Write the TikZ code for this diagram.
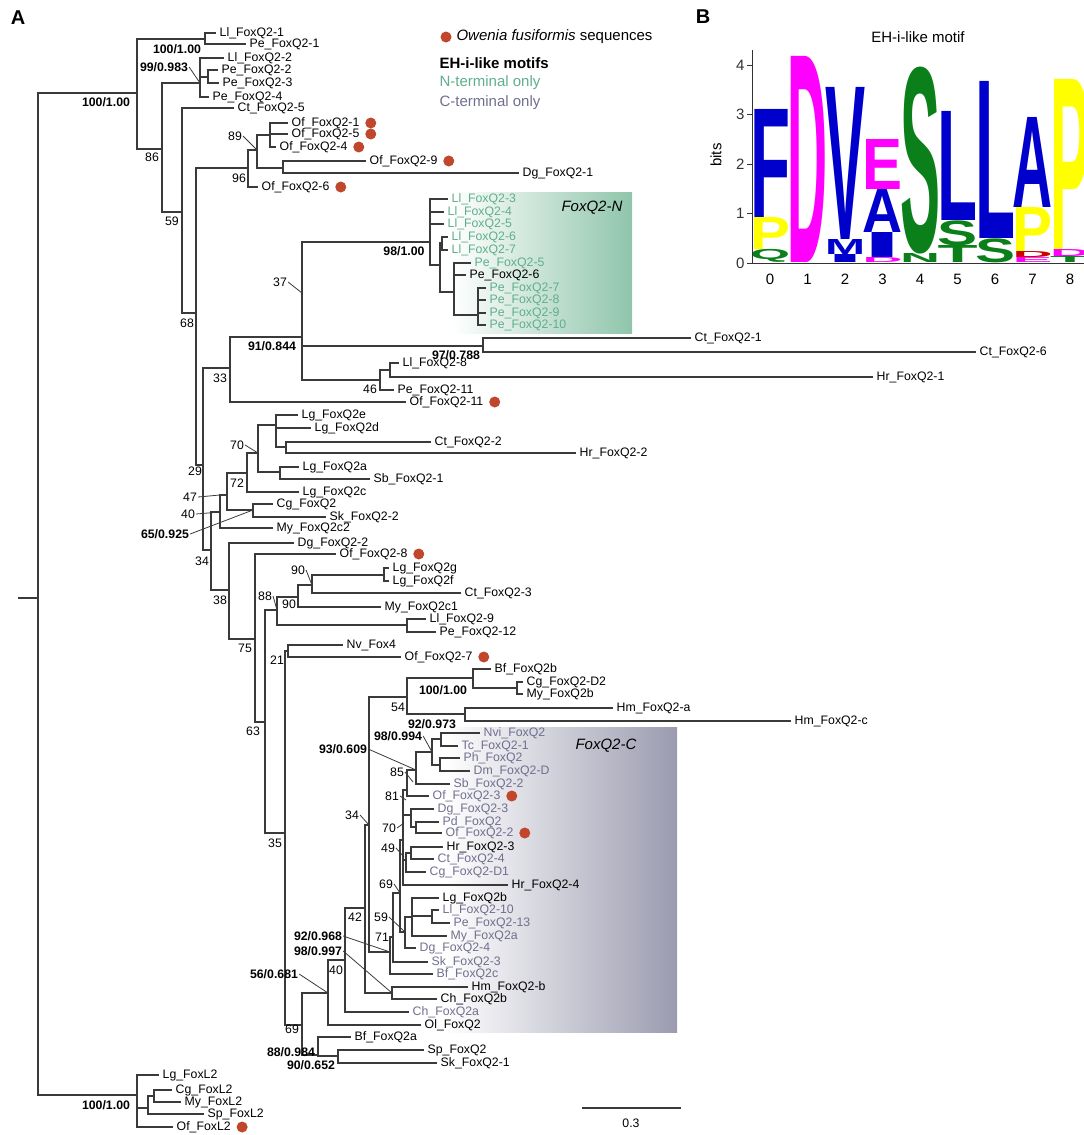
\documentclass[tikz,border=0pt]{standalone}
\usepackage{fontspec}
\setmainfont{Liberation Sans}
\usepackage{graphicx}
\usetikzlibrary{positioning}
\definecolor{ofRed}{HTML}{C0462C}
\definecolor{nTerm}{HTML}{5FAE8C}
\definecolor{cTerm}{HTML}{6F6F8F}
\definecolor{boxN}{HTML}{8FC5AB}
\definecolor{boxC}{HTML}{9B9BB0}
\definecolor{brGray}{HTML}{3A3A3A}
\definecolor{lgBlue}{HTML}{0000CC}
\definecolor{lgMag}{HTML}{FF00FF}
\definecolor{lgGreen}{HTML}{0A7F1A}
\definecolor{lgYellow}{HTML}{FFFF00}
\definecolor{lgRed}{HTML}{CC0000}
\newcommand{\leaffont}{\fontsize{12.3}{14}\selectfont}
\newcommand{\legfont}{\fontsize{15}{17}\selectfont}

\begin{document}
\begin{tikzpicture}[x=1pt, y=-1pt,
      br/.style={draw=brGray, line width=1.1pt},
      ldr/.style={draw=brGray, line width=0.8pt},
      leaf/.style={anchor=west, inner xsep=3.5pt, inner ysep=0.5pt, font=\leaffont},
      nleaf/.style={leaf, text=nTerm},
      cleaf/.style={leaf, text=cTerm},
      bsup/.style={font=\leaffont\bfseries, inner sep=1pt},
      nsup/.style={font=\leaffont, inner sep=1pt},
      ofdot/.style={circle, fill=ofRed, minimum size=11pt, inner sep=0pt},
      ltr/.style={anchor=south west, inner sep=0pt, font=\bfseries}]
    \useasboundingbox (0,0) rectangle (1084,1135);
    % clade boxes
    \shade[left color=white, right color=boxN] (452,192) rectangle (632,333);
    \shade[left color=white, right color=boxC] (445,727) rectangle (677,1032);
    \node[font=\legfont\itshape, anchor=west] (capN) at (558,208) {FoxQ2-N};
    \node[font=\legfont\itshape, anchor=west] (capC) at (572,746) {FoxQ2-C};

    % panel letters and legend
    \node[font=\fontsize{20}{22}\selectfont\bfseries] (pA) at (18,18) {A};
    \node[font=\fontsize{20}{22}\selectfont\bfseries] (pB) at (703,17) {B};
    \node[ofdot] (legdot) at (446,37) {};
    \node[anchor=west, font=\legfont] (legof) at (453,37) {\textit{Owenia fusiformis} sequences};
    \node[anchor=west, font=\legfont\bfseries] (legeh) at (436,63) {EH-i-like motifs};
    \node[anchor=west, font=\legfont, text=nTerm] (legn) at (436,83) {N-terminal only};
    \node[anchor=west, font=\legfont, text=cTerm] (legc) at (436,103) {C-terminal only};

    % leaves
    \node[leaf] (ll1) at (216,33) {Ll\_FoxQ2-1};
    \node[leaf] (pe1) at (246,44) {Pe\_FoxQ2-1};
    \node[leaf] (ll2) at (224,58) {Ll\_FoxQ2-2};
    \node[leaf] (pe2) at (218,70) {Pe\_FoxQ2-2};
    \node[leaf] (pe3) at (219,83) {Pe\_FoxQ2-3};
    \node[leaf] (pe4) at (209,97) {Pe\_FoxQ2-4};
    \node[leaf] (ct5) at (234,108) {Ct\_FoxQ2-5};
    \node[leaf] (of1) at (288,123) {Of\_FoxQ2-1};
    \node[leaf] (of5) at (288,134) {Of\_FoxQ2-5};
    \node[leaf] (of4) at (276,147) {Of\_FoxQ2-4};
    \node[leaf] (of9) at (366,161) {Of\_FoxQ2-9};
    \node[leaf] (dg1) at (519,173) {Dg\_FoxQ2-1};
    \node[leaf] (of6) at (258,187) {Of\_FoxQ2-6};
    \node[nleaf] (ll3) at (448,199) {Ll\_FoxQ2-3};
    \node[nleaf] (ll4) at (444,212) {Ll\_FoxQ2-4};
    \node[nleaf] (ll5) at (444,224) {Ll\_FoxQ2-5};
    \node[nleaf] (ll6) at (448,237) {Ll\_FoxQ2-6};
    \node[nleaf] (ll7) at (448,250) {Ll\_FoxQ2-7};
    \node[nleaf] (pe5) at (471,263) {Pe\_FoxQ2-5};
    \node[leaf] (pe6) at (466,275) {Pe\_FoxQ2-6};
    \node[nleaf] (pe7) at (486,288) {Pe\_FoxQ2-7};
    \node[nleaf] (pe8) at (486,300) {Pe\_FoxQ2-8};
    \node[nleaf] (pe9) at (486,313) {Pe\_FoxQ2-9};
    \node[nleaf] (pe10) at (486,325) {Pe\_FoxQ2-10};
    \node[leaf] (ct1) at (691,338) {Ct\_FoxQ2-1};
    \node[leaf] (ct6) at (976,352) {Ct\_FoxQ2-6};
    \node[leaf] (ll8) at (399,363) {Ll\_FoxQ2-8};
    \node[leaf] (hr1) at (873,377) {Hr\_FoxQ2-1};
    \node[leaf] (pe11) at (394,390) {Pe\_FoxQ2-11};
    \node[leaf] (of11) at (406,402) {Of\_FoxQ2-11};
    \node[leaf] (lge) at (298,415) {Lg\_FoxQ2e};
    \node[leaf] (lgd) at (311,428) {Lg\_FoxQ2d};
    \node[leaf] (ct2) at (431,442) {Ct\_FoxQ2-2};
    \node[leaf] (hr2) at (576,453) {Hr\_FoxQ2-2};
    \node[leaf] (lga) at (299,467) {Lg\_FoxQ2a};
    \node[leaf] (sb1) at (370,479) {Sb\_FoxQ2-1};
    \node[leaf] (lgc) at (299,492) {Lg\_FoxQ2c};
    \node[leaf] (cg) at (273,504) {Cg\_FoxQ2};
    \node[leaf] (sk2) at (326,517) {Sk\_FoxQ2-2};
    \node[leaf] (myc2) at (273,528) {My\_FoxQ2c2};
    \node[leaf] (dg2) at (294,543) {Dg\_FoxQ2-2};
    \node[leaf] (of8) at (336,554) {Of\_FoxQ2-8};
    \node[leaf] (lgg) at (389,568) {Lg\_FoxQ2g};
    \node[leaf] (lgf) at (389,581) {Lg\_FoxQ2f};
    \node[leaf] (ct3) at (461,593) {Ct\_FoxQ2-3};
    \node[leaf] (myc1) at (381,607) {My\_FoxQ2c1};
    \node[leaf] (ll9) at (426,619) {Ll\_FoxQ2-9};
    \node[leaf] (pe12) at (436,632) {Pe\_FoxQ2-12};
    \node[leaf] (nv4) at (343,645) {Nv\_Fox4};
    \node[leaf] (of7) at (401,657) {Of\_FoxQ2-7};
    \node[leaf] (bfb) at (491,669) {Bf\_FoxQ2b};
    \node[leaf] (cgd2) at (523,682) {Cg\_FoxQ2-D2};
    \node[leaf] (myb) at (523,694) {My\_FoxQ2b};
    \node[leaf] (hma) at (613,708) {Hm\_FoxQ2-a};
    \node[leaf] (hmc) at (791,721) {Hm\_FoxQ2-c};
    \node[cleaf] (nvi) at (480,733) {Nvi\_FoxQ2};
    \node[cleaf] (tc1) at (458,746) {Tc\_FoxQ2-1};
    \node[cleaf] (ph) at (460,758) {Ph\_FoxQ2};
    \node[cleaf] (dm) at (470,771) {Dm\_FoxQ2-D};
    \node[cleaf] (sb2) at (450,784) {Sb\_FoxQ2-2};
    \node[cleaf] (of3) at (429,796) {Of\_FoxQ2-3};
    \node[cleaf] (dg3) at (434,809) {Dg\_FoxQ2-3};
    \node[cleaf] (pd) at (439,822) {Pd\_FoxQ2};
    \node[cleaf] (of2) at (442,833) {Of\_FoxQ2-2};
    \node[leaf] (hr3) at (443,847) {Hr\_FoxQ2-3};
    \node[cleaf] (ct4) at (434,859) {Ct\_FoxQ2-4};
    \node[cleaf] (cgd1) at (426,872) {Cg\_FoxQ2-D1};
    \node[leaf] (hr4) at (508,885) {Hr\_FoxQ2-4};
    \node[leaf] (lgb) at (439,898) {Lg\_FoxQ2b};
    \node[cleaf] (ll10) at (439,910) {Ll\_FoxQ2-10};
    \node[cleaf] (pe13) at (450,923) {Pe\_FoxQ2-13};
    \node[cleaf] (mya) at (447,936) {My\_FoxQ2a};
    \node[cleaf] (dg4) at (416,948) {Dg\_FoxQ2-4};
    \node[cleaf] (sk3) at (428,962) {Sk\_FoxQ2-3};
    \node[cleaf] (bfc) at (433,974) {Bf\_FoxQ2c};
    \node[leaf] (hmb) at (468,987) {Hm\_FoxQ2-b};
    \node[leaf] (chb) at (437,999) {Ch\_FoxQ2b};
    \node[cleaf] (cha) at (409,1012) {Ch\_FoxQ2a};
    \node[leaf] (ol) at (421,1025) {Ol\_FoxQ2};
    \node[leaf] (bfa) at (351,1037) {Bf\_FoxQ2a};
    \node[leaf] (sp) at (424,1050) {Sp\_FoxQ2};
    \node[leaf] (sk1) at (437,1063) {Sk\_FoxQ2-1};
    \node[leaf] (lgl) at (159,1075) {Lg\_FoxL2};
    \node[leaf] (cgl) at (172,1090) {Cg\_FoxL2};
    \node[leaf] (myl) at (181,1102) {My\_FoxL2};
    \node[leaf] (spl) at (204,1114) {Sp\_FoxL2};
    \node[leaf] (ofl) at (173,1127) {Of\_FoxL2};

    % Owenia dots
    \node[ofdot, right=2pt of of1] (dof1) {};
    \node[ofdot, right=2pt of of5] (dof5) {};
    \node[ofdot, right=2pt of of4] (dof4) {};
    \node[ofdot, right=2pt of of9] (dof9) {};
    \node[ofdot, right=2pt of of6] (dof6) {};
    \node[ofdot, right=2pt of of11] (dof11) {};
    \node[ofdot, right=2pt of of8] (dof8) {};
    \node[ofdot, right=2pt of of7] (dof7) {};
    \node[ofdot, right=2pt of of3] (dof3) {};
    \node[ofdot, right=2pt of of2] (dof2) {};
    \node[ofdot, right=2pt of ofl] (dofl) {};

    % internal nodes
    \coordinate (rt0) at (18,598);
    \coordinate (rt) at (38,598);
    \coordinate (n1) at (137,93);
    \coordinate (na) at (205,39);
    \coordinate (n2) at (162,149);
    \coordinate (nb) at (200,83);
    \coordinate (nb2) at (208,77);
    \coordinate (n3) at (182,212);
    \coordinate (n4) at (196,313);
    \coordinate (nofa) at (248,168);
    \coordinate (nofb) at (257,150);
    \coordinate (nofc) at (270,135);
    \coordinate (nofd) at (283,168);
    \coordinate (n29) at (203,465);
    \coordinate (n33) at (230,368);
    \coordinate (n91) at (302,337);
    \coordinate (c37) at (302,293);
    \coordinate (nn) at (430,242);
    \coordinate (nq) at (440,265);
    \coordinate (nl67) at (442,243);
    \coordinate (nr) at (454,292);
    \coordinate (ns) at (478,315);
    \coordinate (nct) at (483,346);
    \coordinate (nll) at (380,380);
    \coordinate (nll8) at (390,370);
    \coordinate (n34) at (211,550);
    \coordinate (n40) at (220,512);
    \coordinate (c47) at (220,495);
    \coordinate (n47) at (227,495);
    \coordinate (n72) at (247,473);
    \coordinate (n70) at (258,453);
    \coordinate (nlgd) at (276,425);
    \coordinate (nct2) at (286,447);
    \coordinate (nlga) at (280,472);
    \coordinate (ncg) at (253,510);
    \coordinate (n38) at (229,590);
    \coordinate (n75) at (255,639);
    \coordinate (n63) at (265,722);
    \coordinate (n88) at (277,610);
    \coordinate (n90b) at (298,597);
    \coordinate (n90a) at (312,585);
    \coordinate (nlgg) at (384,575);
    \coordinate (nll9) at (407,625);
    \coordinate (n35) at (285,833);
    \coordinate (nnv) at (288,651);
    \coordinate (n69) at (302,1025);
    \coordinate (n56) at (328,993);
    \coordinate (n40c) at (345,960);
    \coordinate (n42) at (365,908);
    \coordinate (n34c) at (369,825);
    \coordinate (n54) at (407,697);
    \coordinate (nbf) at (473,678);
    \coordinate (ncgd) at (517,688);
    \coordinate (nhm) at (465,714);
    \coordinate (n92) at (390,952);
    \coordinate (n71) at (393,937);
    \coordinate (n69c) at (400,893);
    \coordinate (n59) at (405,932);
    \coordinate (nlgb) at (412,917);
    \coordinate (nll10) at (432,916);
    \coordinate (nsp) at (403,840);
    \coordinate (n81) at (407,790);
    \coordinate (n85) at (416,770);
    \coordinate (n98) at (432,752);
    \coordinate (nnvi) at (441,739);
    \coordinate (nph) at (440,765);
    \coordinate (ndg) at (411,815);
    \coordinate (npd) at (416,827);
    \coordinate (n49) at (406,860);
    \coordinate (nhr3) at (411,853);
    \coordinate (c85) at (413,782);
    \coordinate (c81) at (406,800);
    \coordinate (c70) at (404,823);
    \coordinate (c49) at (404,857);
    \coordinate (nhmb) at (392,993);
    \coordinate (nbfa) at (318,1055);
    \coordinate (nsp2) at (338,1056);
    \coordinate (nl0) at (137,1095);
    \coordinate (nl1) at (148,1108);
    \coordinate (nl2) at (154,1096);

    % branches
    \draw[br] (rt0) -- (rt);
    \draw[br] (rt) |- (n1); \draw[br] (rt) |- (nl0);
    \draw[br] (n1) |- (na); \draw[br] (n1) |- (n2);
    \draw[br] (na) |- (ll1.west); \draw[br] (na) |- (pe1.west);
    \draw[br] (n2) |- (nb); \draw[br] (n2) |- (n3);
    \draw[br] (nb) |- (ll2.west); \draw[br] (nb) |- (nb2); \draw[br] (nb) |- (pe4.west);
    \draw[br] (nb2) |- (pe2.west); \draw[br] (nb2) |- (pe3.west);
    \draw[br] (n3) |- (ct5.west); \draw[br] (n3) |- (n4);
    \draw[br] (n4) |- (nofa); \draw[br] (n4) |- (n29);
    \draw[br] (nofa) |- (nofb); \draw[br] (nofa) |- (of6.west);
    \draw[br] (nofb) |- (nofc); \draw[br] (nofb) |- (nofd);
    \draw[br] (nofc) |- (of1.west); \draw[br] (nofc) |- (of5.west); \draw[br] (nofc) |- (of4.west);
    \draw[br] (nofd) |- (of9.west); \draw[br] (nofd) |- (dg1.west);
    \draw[br] (n29) |- (n33); \draw[br] (n29) |- (n34);
    \draw[br] (n33) |- (n91); \draw[br] (n33) |- (of11.west);
    \draw[br] (n91) |- (nn); \draw[br] (n91) |- (nct); \draw[br] (n91) |- (nll);
    \draw[br] (nn) |- (ll3.west); \draw[br] (nn) |- (ll4.west); \draw[br] (nn) |- (ll5.west); \draw[br] (nn) |- (nq);
    \draw[br] (nq) |- (nl67); \draw[br] (nq) |- (nr);
    \draw[br] (nl67) |- (ll6.west); \draw[br] (nl67) |- (ll7.west);
    \draw[br] (nr) |- (pe5.west); \draw[br] (nr) |- (pe6.west); \draw[br] (nr) |- (ns);
    \draw[br] (ns) |- (pe7.west); \draw[br] (ns) |- (pe8.west); \draw[br] (ns) |- (pe9.west); \draw[br] (ns) |- (pe10.west);
    \draw[br] (nct) |- (ct1.west); \draw[br] (nct) |- (ct6.west);
    \draw[br] (nll) |- (nll8); \draw[br] (nll) |- (pe11.west);
    \draw[br] (nll8) |- (ll8.west); \draw[br] (nll8) |- (hr1.west);
    \draw[br] (n34) |- (n40); \draw[br] (n34) |- (n38);
    \draw[br] (n40) |- (n47); \draw[br] (n40) |- (myc2.west);
    \draw[br] (n47) |- (n72); \draw[br] (n47) |- (ncg);
    \draw[br] (n72) |- (n70); \draw[br] (n72) |- (lgc.west);
    \draw[br] (n70) |- (nlgd); \draw[br] (n70) |- (nlga);
    \draw[br] (nlgd) |- (lge.west); \draw[br] (nlgd) |- (lgd.west); \draw[br] (nlgd) |- (nct2);
    \draw[br] (nct2) |- (ct2.west); \draw[br] (nct2) |- (hr2.west);
    \draw[br] (nlga) |- (lga.west); \draw[br] (nlga) |- (sb1.west);
    \draw[br] (ncg) |- (cg.west); \draw[br] (ncg) |- (sk2.west);
    \draw[br] (n38) |- (dg2.west); \draw[br] (n38) |- (n75);
    \draw[br] (n75) |- (of8.west); \draw[br] (n75) |- (n63);
    \draw[br] (n63) |- (n88); \draw[br] (n63) |- (n35);
    \draw[br] (n88) |- (n90b); \draw[br] (n88) |- (nll9);
    \draw[br] (n90b) |- (n90a); \draw[br] (n90b) |- (myc1.west);
    \draw[br] (n90a) |- (nlgg); \draw[br] (n90a) |- (ct3.west);
    \draw[br] (nlgg) |- (lgg.west); \draw[br] (nlgg) |- (lgf.west);
    \draw[br] (nll9) |- (ll9.west); \draw[br] (nll9) |- (pe12.west);
    \draw[br] (n35) |- (nnv); \draw[br] (n35) |- (n69);
    \draw[br] (nnv) |- (nv4.west); \draw[br] (nnv) |- (of7.west);
    \draw[br] (n69) |- (n56); \draw[br] (n69) |- (nbfa);
    \draw[br] (n56) |- (n40c); \draw[br] (n56) |- (ol.west);
    \draw[br] (n40c) |- (n42); \draw[br] (n40c) |- (cha.west);
    \draw[br] (n42) |- (n34c); \draw[br] (n42) |- (nhmb);
    \draw[br] (n34c) |- (n54); \draw[br] (n34c) |- (n92);
    \draw[br] (n54) |- (nbf); \draw[br] (n54) |- (nhm);
    \draw[br] (nbf) |- (bfb.west); \draw[br] (nbf) |- (ncgd);
    \draw[br] (ncgd) |- (cgd2.west); \draw[br] (ncgd) |- (myb.west);
    \draw[br] (nhm) |- (hma.west); \draw[br] (nhm) |- (hmc.west);
    \draw[br] (n92) |- (n71); \draw[br] (n92) |- (bfc.west);
    \draw[br] (n71) |- (n69c); \draw[br] (n71) |- (sk3.west);
    \draw[br] (n69c) |- (nsp); \draw[br] (n69c) |- (n59);
    \draw[br] (n59) |- (nlgb); \draw[br] (n59) |- (dg4.west);
    \draw[br] (nlgb) |- (lgb.west); \draw[br] (nlgb) |- (nll10); \draw[br] (nlgb) |- (mya.west);
    \draw[br] (nll10) |- (ll10.west); \draw[br] (nll10) |- (pe13.west);
    \draw[br] (nsp) |- (n81); \draw[br] (nsp) |- (ndg); \draw[br] (nsp) |- (n49); \draw[br] (nsp) |- (hr4.west);
    \draw[br] (n81) |- (n85); \draw[br] (n81) |- (of3.west);
    \draw[br] (n85) |- (n98); \draw[br] (n85) |- (sb2.west);
    \draw[br] (n98) |- (nnvi); \draw[br] (n98) |- (nph);
    \draw[br] (nnvi) |- (nvi.west); \draw[br] (nnvi) |- (tc1.west);
    \draw[br] (nph) |- (ph.west); \draw[br] (nph) |- (dm.west);
    \draw[br] (ndg) |- (dg3.west); \draw[br] (ndg) |- (npd);
    \draw[br] (npd) |- (pd.west); \draw[br] (npd) |- (of2.west);
    \draw[br] (n49) |- (nhr3); \draw[br] (n49) |- (cgd1.west);
    \draw[br] (nhr3) |- (hr3.west); \draw[br] (nhr3) |- (ct4.west);
    \draw[br] (nhmb) |- (hmb.west); \draw[br] (nhmb) |- (chb.west);
    \draw[br] (nbfa) |- (bfa.west); \draw[br] (nbfa) |- (nsp2);
    \draw[br] (nsp2) |- (sp.west); \draw[br] (nsp2) |- (sk1.west);
    \draw[br] (nl0) |- (lgl.west); \draw[br] (nl0) |- (nl1); \draw[br] (nl0) |- (ofl.west);
    \draw[br] (nl1) |- (nl2); \draw[br] (nl1) |- (spl.west);
    \draw[br] (nl2) |- (cgl.west); \draw[br] (nl2) |- (myl.west);

    % support values
    \node[bsup] (s100a) at (177,49) {100/1.00};
    \node[bsup] (s99) at (164,67) {99/0.983};
    \node[bsup] (s100b) at (106,102) {100/1.00};
    \node[nsup] (s86) at (152,157) {86};
    \node[nsup] (s89) at (235,136) {89};
    \node[nsup] (s96) at (239,178) {96};
    \node[nsup] (s59a) at (172,221) {59};
    \node[bsup] (s98a) at (404,251) {98/1.00};
    \node[nsup] (s37) at (280,282) {37};
    \node[nsup] (s68) at (187,323) {68};
    \node[bsup] (s91) at (272,346) {91/0.844};
    \node[bsup] (s97) at (456,355) {97/0.788};
    \node[nsup] (s33) at (220,378) {33};
    \node[nsup] (s46) at (370,389) {46};
    \node[nsup] (s70a) at (237,445) {70};
    \node[nsup] (s29) at (195,471) {29};
    \node[nsup] (s72) at (237,483) {72};
    \node[nsup] (s47) at (190,497) {47};
    \node[nsup] (s40a) at (188,514) {40};
    \node[bsup] (s65) at (165,534) {65/0.925};
    \node[nsup] (s34a) at (202,561) {34};
    \node[nsup] (s90a) at (298,570) {90};
    \node[nsup] (s88) at (265,596) {88};
    \node[nsup] (s38) at (220,600) {38};
    \node[nsup] (s90b) at (289,604) {90};
    \node[nsup] (s75) at (245,648) {75};
    \node[nsup] (s21) at (277,660) {21};
    \node[bsup] (s100c) at (443,690) {100/1.00};
    \node[nsup] (s54) at (398,707) {54};
    \node[bsup] (s92a) at (432,724) {92/0.973};
    \node[nsup] (s63) at (253,731) {63};
    \node[bsup] (s98b) at (398,736) {98/0.994};
    \node[bsup] (s93) at (343,749) {93/0.609};
    \node[nsup] (s85) at (397,772) {85};
    \node[nsup] (s81) at (392,796) {81};
    \node[nsup] (s34b) at (352,815) {34};
    \node[nsup] (s70b) at (389,828) {70};
    \node[nsup] (s35) at (275,843) {35};
    \node[nsup] (s49) at (388,848) {49};
    \node[nsup] (s69a) at (386,884) {69};
    \node[nsup] (s42) at (355,917) {42};
    \node[nsup] (s59b) at (381,917) {59};
    \node[nsup] (s71) at (382,937) {71};
    \node[bsup] (s92b) at (318,936) {92/0.968};
    \node[bsup] (s98c) at (318,951) {98/0.997};
    \node[nsup] (s40b) at (336,970) {40};
    \node[bsup] (s56) at (274,974) {56/0.681};
    \node[nsup] (s69b) at (292,1029) {69};
    \node[bsup] (s88b) at (291,1052) {88/0.984};
    \node[bsup] (s90c) at (311,1065) {90/0.652};
    \node[bsup] (s100d) at (106,1105) {100/1.00};

    % leader lines
    \draw[ldr] (s99.east) -- (nb);
    \draw[ldr] (s89.east) -- (nofb);
    \draw[ldr] (s37.east) -- (c37);
    \draw[ldr] (s70a.east) -- (n70);
    \draw[ldr] (s47.east) -- (c47);
    \draw[ldr] (s40a.east) -- (n40);
    \draw[ldr] (s65.east) -- (ncg);
    \draw[ldr] (s90a.east) -- (n90a);
    \draw[ldr] (s88.east) -- (n88);
    \draw[ldr] (s98b.east) -- (n98);
    \draw[ldr] (s93.east) -- (n85);
    \draw[ldr] (s85.east) -- (c85);
    \draw[ldr] (s81.east) -- (c81);
    \draw[ldr] (s34b.east) -- (n34c);
    \draw[ldr] (s70b.east) -- (c70);
    \draw[ldr] (s49.east) -- (c49);
    \draw[ldr] (s69a.east) -- (n69c);
    \draw[ldr] (s59b.east) -- (n59);
    \draw[ldr] (s71.east) -- (n71);
    \draw[ldr] (s92b.east) -- (n92);
    \draw[ldr] (s98c.east) -- (nhmb);
    \draw[ldr] (s56.east) -- (n56);

    % scale bar
    \coordinate (sb0) at (582,1108);
    \coordinate (sb1) at (681,1108);
    \draw[br] (sb0) -- (sb1);
    \node[font=\leaffont] (sbl) at (631,1123) {0.3};

    % sequence logo
    \node[font=\legfont] (ttl) at (918,37) {EH-i-like motif};
    \foreach \lx/\lb/\lh/\lc/\lt [count=\k] in {
        752/263/13/lgGreen/Q, 752/250/32/lgYellow/P, 752/218/108/lgBlue/F,
        789.5/263/206/lgMag/D,
        827/263/8/lgBlue/I, 827/255/15/lgBlue/M, 827/240/152/lgBlue/V,
        864.5/263/5/lgMag/D, 864.5/258/25/lgBlue/I, 864.5/233/43/lgBlue/A, 864.5/190/50/lgMag/E,
        902/263/9/lgGreen/N, 902/254/187/lgGreen/S,
        939.5/263/17/lgGreen/T, 939.5/246/25/lgGreen/S, 939.5/221/109/lgBlue/L,
        977/263/24/lgGreen/S, 977/239/157/lgBlue/L,
        1014.5/263/5/lgMag/E, 1014.5/258/6/lgRed/D, 1014.5/252/44/lgYellow/P, 1014.5/208/90/lgBlue/A,
        1052/263/6/lgGreen/T, 1052/257/7/lgMag/D, 1052/250/170/lgYellow/P}
      \node[ltr, text=\lc] (lt\k) at ({\lx-2},\lb) {\resizebox*{40pt}{\lh pt}{\lt}};
    \fill[white] (700,50) rectangle (751.4,263);
    \draw[line width=0.9pt, black!80] (752,50) -- (752,263) -- (1084,263);
    \foreach \b in {0,...,4}
      \draw[line width=0.9pt, black!80] (752,{263-49.5*\b}) -- (747,{263-49.5*\b})
        node[left, font=\legfont, inner sep=2pt] (yt\b) {\b};
    \foreach \i in {0,...,8}
      \node[font=\legfont] (xt\i) at ({770+37.5*\i},279) {\i};
    \node[rotate=90, font=\legfont] (bits) at (716,155) {bits};
  \end{tikzpicture}
\end{document}
